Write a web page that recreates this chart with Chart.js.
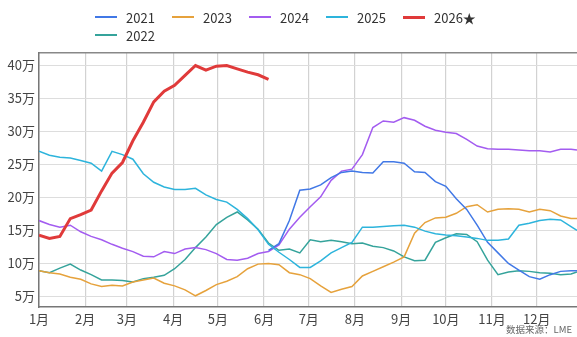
<!DOCTYPE html>
<html>
<head>
<meta charset="utf-8">
<script src="https://cdn.jsdelivr.net/npm/chart.js@4/dist/chart.umd.min.js"></script>
<style>
  body { margin: 0; background: #fff; }
  #wrap { position: relative; width: 577px; height: 337px; font-family: "Noto Sans CJK SC", "Noto Sans", sans-serif; }
  #legend { position: absolute; left: 95px; top: 8px; width: 390px; display: flex; flex-wrap: wrap; }
  .item { width: 77px; height: 18px; display: flex; align-items: center; font-size: 13px; color: #333; }
  .item span.ln { display: inline-block; width: 22px; margin-right: 9px; }
  #src { position: absolute; right: 5px; bottom: 1px; font-size: 9.5px; color: #666; }
</style>
</head>
<body>
<div id="wrap">
  <canvas id="lmeChart" width="577" height="337"></canvas>
  <div id="legend"></div>
  <div id="src">数据来源：LME</div>
</div>
<script>
// day of year for each sample (weekly)
const days = [0,7,14,21,28,35,42,49,56,63,70,77,84,91,98,105,112,119,126,133,140,147,154,161,168,175,182,189,196,203,210,217,224,231,238,245,252,259,266,273,280,287,294,301,308,315,322,329,336,343,350,357,361];

const months = ['1月','2月','3月','4月','5月','6月','7月','8月','9月','10月','11月','12月'];
const monthStarts = [0,31,59,90,120,151,181,212,243,273,304,334];
const yTicks = [5,10,15,20,25,30,35,40];

// values in 万
const v2021 = [null,null,null,null,null,null,null,null,null,null,null,null,null,null,null,null,null,null,null,null,null,null,
  12.0,13.0,16.5,21.1,21.3,21.9,23.0,23.8,24.0,23.8,23.7,25.4,25.4,25.2,23.9,23.8,22.4,21.7,19.8,18.2,15.8,13.2,11.6,10.0,9.0,8.0,7.6,8.3,8.8,8.9,8.9];
const v2022 = [8.9,8.6,9.3,9.9,9.0,8.3,7.5,7.5,7.4,7.2,7.7,7.9,8.2,9.2,10.6,12.4,14.0,15.9,17.0,17.8,16.6,15.2,13.1,12.0,12.2,11.6,13.6,13.3,13.5,13.3,13.0,13.1,12.6,12.4,11.9,11.0,10.4,10.5,13.2,13.9,14.5,14.4,13.3,10.5,8.3,8.7,8.9,8.8,8.6,8.5,8.3,8.4,8.7];
const v2023 = [8.9,8.6,8.4,7.9,7.6,6.9,6.5,6.7,6.6,7.2,7.5,7.8,7.0,6.6,6.0,5.1,5.9,6.8,7.3,8.0,9.2,9.9,10.0,9.8,8.6,8.3,7.7,6.6,5.6,6.1,6.5,8.1,8.8,9.5,10.2,11.0,14.6,16.2,16.9,17.0,17.6,18.6,18.9,17.8,18.2,18.3,18.2,17.8,18.2,18.0,17.2,16.8,16.8];
const v2024 = [16.5,15.9,15.5,15.8,14.8,14.1,13.6,12.9,12.3,11.8,11.1,11.0,11.8,11.5,12.2,12.4,12.1,11.5,10.6,10.5,10.8,11.5,11.8,12.8,15.2,17.0,18.6,20.1,22.6,24.0,24.3,26.5,30.6,31.6,31.4,32.1,31.7,30.8,30.2,29.9,29.7,28.8,27.8,27.4,27.3,27.3,27.2,27.1,27.1,26.9,27.3,27.3,27.2];
const v2025 = [27.0,26.4,26.1,26.0,25.6,25.2,24.0,27.0,26.5,25.8,23.6,22.3,21.6,21.2,21.2,21.4,20.4,19.7,19.3,18.2,16.8,15.1,12.9,11.7,10.6,9.4,9.4,10.4,11.6,12.4,13.2,15.5,15.5,15.6,15.7,15.8,15.5,14.9,14.5,14.3,14.2,14.0,13.8,13.5,13.5,13.7,15.8,16.1,16.5,16.7,16.6,15.6,15.0];
const v2026 = [14.3,13.8,14.1,16.8,17.4,18.1,21.0,23.7,25.3,28.6,31.4,34.5,36.1,37.0,38.5,40.0,39.3,39.9,40.0,39.5,39.0,38.6,37.9];

function pts(vals) {
  return vals.map((v, i) => ({x: days[i], y: v}));
}

function line(label, vals, color, width, order) {
  return {
    label: label,
    data: pts(vals),
    borderColor: color,
    backgroundColor: color,
    borderWidth: width,
    pointRadius: 0,
    tension: 0,
    fill: false,
    order: order
  };
}

// legend order is the dataset order
const datasets = [
  line('2021', v2021, '#4178e6', 1.5, 2),
  line('2023', v2023, '#e6a23c', 1.5, 4),
  line('2024', v2024, '#a35cf0', 1.5, 3),
  line('2025', v2025, '#2db4dc', 1.5, 1),
  line('2026★', v2026, '#e03a3a', 3, 0),
  line('2022', v2022, '#35a39b', 1.5, 5)
];

Chart.defaults.font.family = '"Noto Sans CJK SC", "Noto Sans", sans-serif';
Chart.defaults.font.size = 13;
Chart.defaults.color = '#444';

const config = {
  type: 'line',
  data: { datasets: datasets },
  options: {
    responsive: false,
    animation: false,
    layout: { padding: 0 },
    plugins: {
      legend: { display: false },
      tooltip: { enabled: false }
    },
    scales: {
      x: {
        type: 'linear',
        position: 'bottom',
        min: 0,
        max: 361,
        afterBuildTicks: (s) => { s.ticks = monthStarts.map(v => ({value: v})); },
        afterFit: (s) => { s.height = 30; },
        ticks: {
          padding: 4,
          maxRotation: 0,
          autoSkip: false,
          callback: (v, i) => months[i]
        },
        grid: { color: '#d2d2d2', lineWidth: 1.2, drawTicks: false },
        border: { display: true, color: '#777', width: 1.5 }
      },
      x2: {
        type: 'linear',
        position: 'top',
        min: 0,
        max: 361,
        afterFit: (s) => { s.height = 53; },
        ticks: { display: false },
        grid: { display: false, drawTicks: false },
        border: { display: true, color: '#888', width: 1.5 }
      },
      y: {
        min: 3.4,
        max: 41.9,
        afterBuildTicks: (s) => { s.ticks = yTicks.map(v => ({value: v})); },
        afterFit: (s) => { s.width = 39; },
        ticks: {
          padding: 4,
          callback: (v) => v + '万'
        },
        grid: { color: '#dddddd', lineWidth: 1, drawTicks: false },
        border: { display: true, color: '#777', width: 1.5 }
      }
    }
  }
};

const myChart = new Chart(document.getElementById('lmeChart'), config);

// html legend, two rows like the original
const legendBox = document.getElementById('legend');
datasets.forEach(ds => {
  const item = document.createElement('div');
  item.className = 'item';
  const ln = document.createElement('span');
  ln.className = 'ln';
  ln.style.height = Math.round(ds.borderWidth) + 'px';
  ln.style.background = ds.borderColor;
  item.appendChild(ln);
  item.appendChild(document.createTextNode(ds.label));
  legendBox.appendChild(item);
});
</script>
</body>
</html>
